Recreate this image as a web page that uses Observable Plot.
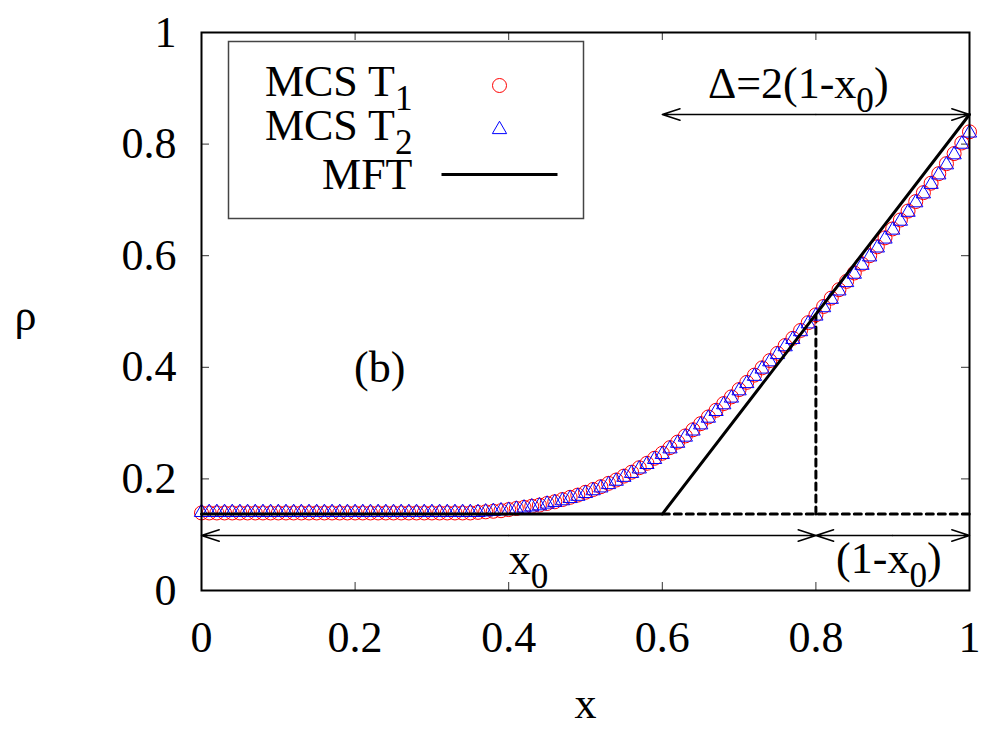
<!DOCTYPE html>
<html>
<head>
<meta charset="utf-8">
<script src="https://cdn.jsdelivr.net/npm/d3@7"></script>
<script src="https://cdn.jsdelivr.net/npm/@observablehq/plot@0.6"></script>
<style>
  html, body { margin: 0; padding: 0; background: #fff; }
  #chart svg, #chart svg text { font-family: "Liberation Serif", "Times New Roman", serif !important; }
</style>
</head>
<body>
<div id="chart"></div>
<script>
// ---- data ----
const xs = [0.00,0.01,0.02,0.03,0.04,0.05,0.06,0.07,0.08,0.09,
            0.10,0.11,0.12,0.13,0.14,0.15,0.16,0.17,0.18,0.19,
            0.20,0.21,0.22,0.23,0.24,0.25,0.26,0.27,0.28,0.29,
            0.30,0.31,0.32,0.33,0.34,0.35,0.36,0.37,0.38,0.39,
            0.40,0.41,0.42,0.43,0.44,0.45,0.46,0.47,0.48,0.49,
            0.50,0.51,0.52,0.53,0.54,0.55,0.56,0.57,0.58,0.59,
            0.60,0.61,0.62,0.63,0.64,0.65,0.66,0.67,0.68,0.69,
            0.70,0.71,0.72,0.73,0.74,0.75,0.76,0.77,0.78,0.79,
            0.80,0.81,0.82,0.83,0.84,0.85,0.86,0.87,0.88,0.89,
            0.90,0.91,0.92,0.93,0.94,0.95,0.96,0.97,0.98,0.99,1.00];

const mcsT1 = [0.139,0.139,0.139,0.139,0.139,0.139,0.139,0.139,0.139,0.139,
               0.139,0.139,0.139,0.139,0.139,0.139,0.139,0.139,0.139,0.139,
               0.139,0.139,0.139,0.139,0.139,0.139,0.139,0.139,0.139,0.139,
               0.139,0.139,0.139,0.139,0.139,0.139,0.140,0.141,0.142,0.143,
               0.145,0.147,0.149,0.151,0.153,0.156,0.159,0.163,0.167,0.171,
               0.176,0.181,0.186,0.192,0.198,0.205,0.212,0.220,0.228,0.237,
               0.246,0.256,0.266,0.277,0.288,0.299,0.311,0.323,0.335,0.347,
               0.360,0.373,0.386,0.399,0.412,0.425,0.439,0.452,0.466,0.480,
               0.494,0.509,0.524,0.539,0.554,0.569,0.585,0.600,0.616,0.632,
               0.648,0.664,0.680,0.697,0.713,0.730,0.747,0.765,0.783,0.802,0.822];

const mcsT2 = [0.140,0.140,0.140,0.140,0.140,0.140,0.140,0.140,0.140,0.140,
               0.140,0.140,0.140,0.140,0.140,0.140,0.140,0.140,0.140,0.140,
               0.140,0.140,0.140,0.140,0.140,0.140,0.140,0.140,0.140,0.140,
               0.140,0.140,0.140,0.140,0.140,0.140,0.140,0.141,0.142,0.143,
               0.144,0.146,0.148,0.150,0.152,0.155,0.158,0.161,0.165,0.169,
               0.174,0.179,0.184,0.190,0.196,0.203,0.210,0.218,0.226,0.235,
               0.244,0.254,0.264,0.275,0.286,0.297,0.309,0.321,0.333,0.345,
               0.358,0.371,0.384,0.397,0.410,0.423,0.437,0.450,0.464,0.478,
               0.492,0.507,0.522,0.537,0.552,0.567,0.583,0.598,0.614,0.630,
               0.646,0.662,0.678,0.695,0.711,0.728,0.745,0.763,0.781,0.800,0.820];

const mftX = [0, 0.6, 1];
const mftRho = [0.137, 0.137, 0.853];

const hDashX = [0.6, 1];
const hDashRho = [0.137, 0.137];
const vDashX = [0.8, 0.8];
const vDashRho = [0.137, 0.495];

// double-headed arrows: from, to, height
const arrowFrom = [0, 0.8, 0.6];
const arrowTo = [0.8, 1, 1];
const arrowRho = [0.0986, 0.0986, 0.853];

const annotText = ["(b)", "Δ=2(1-x_{0})", "x_{0}", "(1-x_{0})"];
const annotX = [0.232, 0.777, 0.426, 0.895];
const annotRho = [0.373, 0.8835, 0.0287, 0.0305];

const xTicks = [0, 0.2, 0.4, 0.6, 0.8, 1];
const xTickLabels = ["0", "0.2", "0.4", "0.6", "0.8", "1"];
const yTicks = [0, 0.2, 0.4, 0.6, 0.8, 1];
const yTickLabels = ["0", "0.2", "0.4", "0.6", "0.8", "1"];

const legendLabels = ["MCS T_{1}", "MCS T_{2}", "MFT"];

// ---- build tables ----
const t1 = xs.map((x, i) => ({x, rho: mcsT1[i]}));
const t2 = xs.map((x, i) => ({x, rho: mcsT2[i]}));
const mft = mftX.map((x, i) => ({x, rho: mftRho[i]}));
const hDash = hDashX.map((x, i) => ({x, rho: hDashRho[i]}));
const vDash = vDashX.map((x, i) => ({x, rho: vDashRho[i]}));
const arrowHalves = [];
arrowFrom.forEach((a, i) => {
  const mid = (a + arrowTo[i]) / 2;
  arrowHalves.push({x1: mid, x2: a, y: arrowRho[i]});
  arrowHalves.push({x1: mid, x2: arrowTo[i], y: arrowRho[i]});
});
const annots = annotText.map((t, i) => ({text: t, x: annotX[i], y: annotRho[i]}));

const FONT = "'Liberation Serif', 'Times New Roman', serif";
const W = 996, H = 732;
const mL = 201, mR = 27, mT = 32, mB = 142;
const fw = W - mL - mR, fh = H - mT - mB;
const tickLen = 8;
const tickColor = "#333";

const lineSymbol = { draw(ctx) { ctx.moveTo(-58, 0); ctx.lineTo(58, 0); } };

const legendRows = [
  {label: legendLabels[0], dy: 63, sym: "circle", stroke: "red", r: 7, sdy: 53},
  {label: legendLabels[1], dy: 107, sym: "triangle", stroke: "blue", r: 5.3, sdy: 97},
  {label: legendLabels[2], dy: 156, sym: lineSymbol, stroke: "black", r: 5, sdy: 142, sw: 3}
];

const legendMarks = legendRows.flatMap(row => [
  Plot.text([row.label], {text: d => d, frameAnchor: "top-left", dx: 211, dy: row.dy,
    textAnchor: "end", lineAnchor: "bottom", fontFamily: FONT}),
  Plot.dot([0], {frameAnchor: "top-left", dx: 298, dy: row.sdy, symbol: row.sym,
    r: row.r, stroke: row.stroke, fill: "none", strokeWidth: row.sw || 1})
]);

const chart = Plot.plot({
  width: W,
  height: H,
  marginLeft: mL, marginRight: mR, marginTop: mT, marginBottom: mB,
  style: {fontFamily: FONT, fontSize: "44px", background: "#fff", color: "#000"},
  x: {domain: [0, 1], label: null},
  y: {domain: [0, 1], label: null},
  marks: [
    // inner ticks on all four sides
    Plot.tickX(xTicks, {x: d => d, insetTop: fh - tickLen, stroke: tickColor, strokeWidth: 1}),
    Plot.tickX(xTicks, {x: d => d, insetBottom: fh - tickLen, stroke: tickColor, strokeWidth: 1}),
    Plot.tickY(yTicks, {y: d => d, insetRight: fw - tickLen, stroke: tickColor, strokeWidth: 1}),
    Plot.tickY(yTicks, {y: d => d, insetLeft: fw - tickLen, stroke: tickColor, strokeWidth: 1}),
    Plot.axisX(xTicks, {tickSize: 0, tickPadding: 30, label: null, fontFamily: FONT, fontVariant: "normal",
      tickFormat: d => xTickLabels[xTicks.indexOf(d)]}),
    Plot.axisY(yTicks, {tickSize: 0, tickPadding: 25, label: null, fontFamily: FONT, fontVariant: "normal",
      tickFormat: d => yTickLabels[yTicks.indexOf(d)]}),
    Plot.text(["x"], {text: d => d, frameAnchor: "bottom", dy: 127, lineAnchor: "bottom", fontFamily: FONT}),
    Plot.text(["ρ"], {text: d => d, frameAnchor: "left", dx: -176, dy: 18, lineAnchor: "bottom", textAnchor: "middle", fontFamily: FONT}),
    // dashed guides
    Plot.line(hDash, {x: "x", y: "rho", stroke: "black", strokeWidth: 3, strokeDasharray: "7,5"}),
    Plot.line(vDash, {x: "x", y: "rho", stroke: "black", strokeWidth: 3, strokeDasharray: "7,5"}),
    // arrows
    Plot.arrow(arrowHalves, {x1: "x1", x2: "x2", y1: "y", y2: "y", stroke: "black",
      strokeWidth: 1.5, headLength: 18.6, headAngle: 36}),
    // MCS data
    Plot.dot(t1, {x: "x", y: "rho", symbol: "circle", r: 7, stroke: "red", fill: "none", strokeWidth: 1}),
    Plot.dot(t2, {x: "x", y: "rho", symbol: "triangle", r: 5.3, stroke: "blue", fill: "none", strokeWidth: 1}),
    // MFT
    Plot.line(mft, {x: "x", y: "rho", stroke: "black", strokeWidth: 3}),
    // annotations
    Plot.text(annots, {x: "x", y: "y", text: "text", textAnchor: "middle", lineAnchor: "bottom", fontFamily: FONT}),
    // legend
    Plot.frame({insetLeft: 27, insetTop: 9, insetRight: 386, insetBottom: 372, stroke: "#444", strokeWidth: 1.5, fill: "white"}),
    ...legendMarks,
    // border
    Plot.frame({stroke: "#000", strokeWidth: 2})
  ]
});

// turn _{...} into subscripts
const subShift = 14;
d3.select(chart).selectAll("text").each(function () {
  const s = this.textContent;
  if (!s.includes("_{")) return;
  const el = d3.select(this);
  el.text(null);
  const parts = s.split(/(_\{[^}]*\})/).filter(p => p.length);
  let shifted = false;
  for (const p of parts) {
    const m = p.match(/^_\{([^}]*)\}$/);
    if (m) {
      el.append("tspan").attr("dy", subShift).attr("font-size", "0.8em").text(m[1]);
      shifted = true;
    } else {
      const t = el.append("tspan").text(p);
      if (shifted) { t.attr("dy", -subShift); shifted = false; }
    }
  }
});

document.getElementById("chart").appendChild(chart);
</script>
</body>
</html>
